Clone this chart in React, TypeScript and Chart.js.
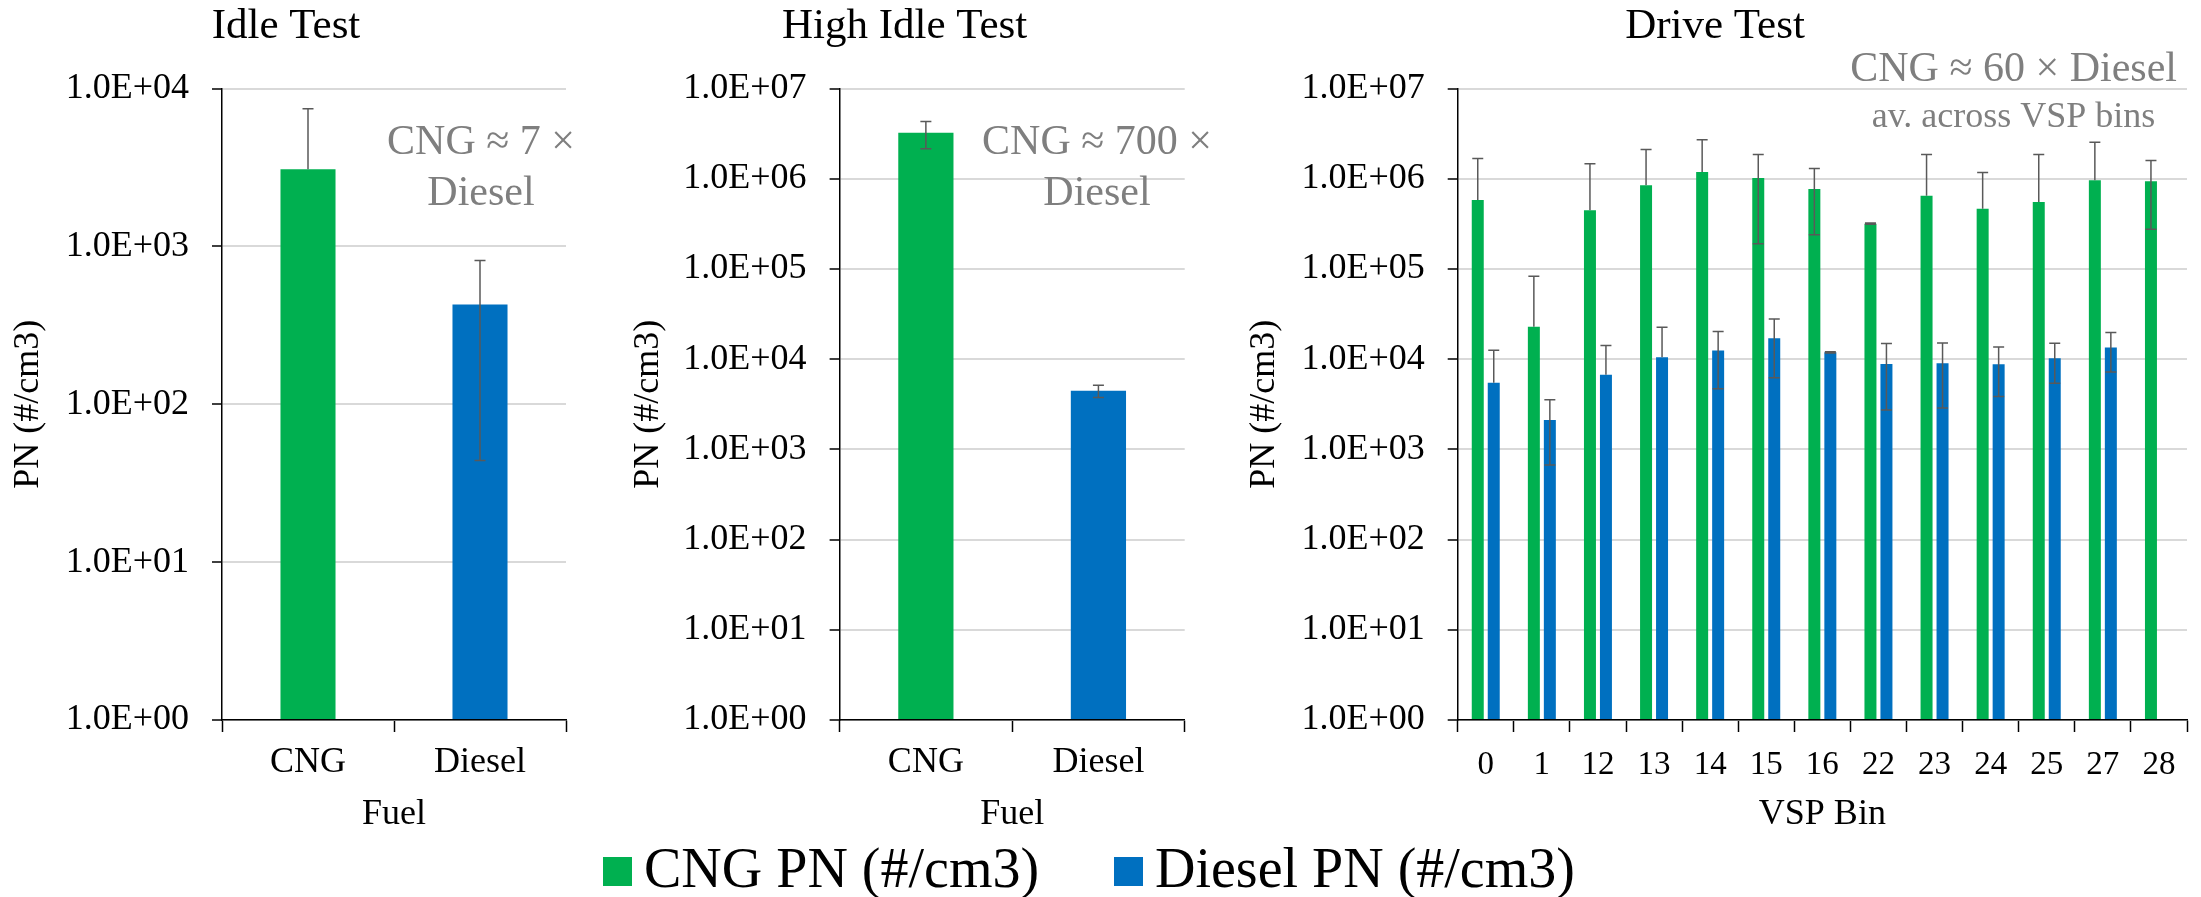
import React, { useEffect, useRef } from 'react';
import { Chart, registerables } from 'chart.js';

Chart.register(...registerables);

const FONT = "'Liberation Serif'";
const GREEN = '#00B050';
const BLUE = '#0070C0';
const ERR_COLOR = '#595959';
const GRID = '#d9d9d9';
const NOTE = '#7f7f7f';

// ---------- data ----------
const seriesLabels = ['CNG PN (#/cm3)', 'Diesel PN (#/cm3)'];
const fuelCategories = ['CNG', 'Diesel'];

const idleValues = [3080, 429];
const idleErrors = [4350, 385];

const highIdleValues = [3230000, 4450];
const highIdleErrors = [1080000, 700];

const vspBins = ['0', '1', '12', '13', '14', '15', '16', '22', '23', '24', '25', '27', '28'];
const driveCngValues = [580000, 22900, 446000, 844000, 1190000, 1020000, 769000, 317000, 648000, 465000, 552000, 960000, 935000];
const driveCngErrors = [1090000, 60000, 1020000, 1270000, 1520000, 830000, 530000, 5000, 1210000, 710000, 1300000, 1570000, 660000];
const driveDieselValues = [5470, 2110, 6730, 10500, 12500, 17000, 11900, 8830, 8980, 8750, 10200, 13500, null];
const driveDieselErrors = [7100, 1440, 7400, 12000, 7800, 10800, 200, 6100, 6100, 4900, 4800, 6300, null];

const idleTickValues = [1, 10, 100, 1000, 10000];
const idleTickLabels = ['1.0E+00', '1.0E+01', '1.0E+02', '1.0E+03', '1.0E+04'];
const wideTickValues = [1, 10, 100, 1000, 10000, 100000, 1000000, 10000000];
const wideTickLabels = ['1.0E+00', '1.0E+01', '1.0E+02', '1.0E+03', '1.0E+04', '1.0E+05', '1.0E+06', '1.0E+07'];

// ---------- plugins ----------
const errorBarPlugin = {
  id: 'errorBars',
  afterDatasetsDraw(chart: any) {
    const { ctx, chartArea } = chart;
    const ys = chart.scales.y;
    ctx.save();
    ctx.beginPath();
    ctx.rect(chartArea.left, chartArea.top - 60, chartArea.right - chartArea.left, chartArea.bottom - chartArea.top + 60);
    ctx.clip();
    ctx.strokeStyle = ERR_COLOR;
    ctx.lineWidth = 1.5;
    const half = 5.5;
    chart.data.datasets.forEach((ds: any, i: number) => {
      const errs = ds.errors;
      if (!errs) return;
      const meta = chart.getDatasetMeta(i);
      meta.data.forEach((el: any, j: number) => {
        const v = ds.data[j];
        const e = errs[j];
        if (v == null || e == null) return;
        const x = el.x;
        const y0 = ys.getPixelForValue(v);
        const yHi = ys.getPixelForValue(v + e);
        ctx.beginPath();
        ctx.moveTo(x, y0);
        ctx.lineTo(x, yHi);
        ctx.moveTo(x - half, yHi);
        ctx.lineTo(x + half, yHi);
        if (v - e > 0) {
          const yLo = ys.getPixelForValue(v - e);
          ctx.moveTo(x, y0);
          ctx.lineTo(x, yLo);
          ctx.moveTo(x - half, yLo);
          ctx.lineTo(x + half, yLo);
        }
        ctx.stroke();
      });
    });
    ctx.restore();
  },
};

type Note = { text: string; x: number; y: number; size: number };

function makeNotesPlugin(notes: Note[], left: number) {
  return {
    id: 'notes',
    afterDraw(chart: any) {
      const ctx = chart.ctx;
      ctx.save();
      ctx.fillStyle = NOTE;
      ctx.textAlign = 'center';
      ctx.textBaseline = 'alphabetic';
      notes.forEach((n) => {
        ctx.font = `${n.size}px ${FONT}`;
        ctx.fillText(n.text, n.x - left, n.y);
      });
      ctx.restore();
    },
  };
}

// ---------- panels ----------
const CANVAS_H = 840;

type PanelSpec = {
  left: number;
  width: number;
  padLeft: number;
  padRight: number;
  yWidth: number;
  yTitlePad: number;
  title: string;
  xTitle: string;
  xTickSize: number;
  xTickPad: number;
  labels: string[];
  datasets: any[];
  tickValues: number[];
  tickLabels: string[];
  notes: Note[];
};

const barStyle = { borderWidth: 0 };

const panels: PanelSpec[] = [
  {
    left: 0,
    width: 580,
    padLeft: 6,
    padRight: 14,
    yWidth: 216,
    yTitlePad: 1.4,
    title: 'Idle Test',
    xTitle: 'Fuel',
    xTickSize: 36,
    xTickPad: 9.4,
    labels: fuelCategories,
    datasets: [
      { label: seriesLabels[0], data: [idleValues[0], null], errors: [idleErrors[0], null], backgroundColor: GREEN, categoryPercentage: 0.32, barPercentage: 1, skipNull: true, ...barStyle },
      { label: seriesLabels[1], data: [null, idleValues[1]], errors: [null, idleErrors[1]], backgroundColor: BLUE, categoryPercentage: 0.32, barPercentage: 1, skipNull: true, ...barStyle },
    ],
    tickValues: idleTickValues,
    tickLabels: idleTickLabels,
    notes: [
      { text: 'CNG \u2248 7 \u00d7', x: 481, y: 154, size: 42 },
      { text: 'Diesel', x: 481, y: 205, size: 42 },
    ],
  },
  {
    left: 620,
    width: 600,
    padLeft: 4.5,
    padRight: 35.3,
    yWidth: 215.1,
    yTitlePad: 2.8,
    title: 'High Idle Test',
    xTitle: 'Fuel',
    xTickSize: 36,
    xTickPad: 9.4,
    labels: fuelCategories,
    datasets: [
      { label: seriesLabels[0], data: [highIdleValues[0], null], errors: [highIdleErrors[0], null], backgroundColor: GREEN, categoryPercentage: 0.32, barPercentage: 1, skipNull: true, ...barStyle },
      { label: seriesLabels[1], data: [null, highIdleValues[1]], errors: [null, highIdleErrors[1]], backgroundColor: BLUE, categoryPercentage: 0.32, barPercentage: 1, skipNull: true, ...barStyle },
    ],
    tickValues: wideTickValues,
    tickLabels: wideTickLabels,
    notes: [
      { text: 'CNG \u2248 700 \u00d7', x: 1097, y: 154, size: 42 },
      { text: 'Diesel', x: 1097, y: 205, size: 42 },
    ],
  },
  {
    left: 1230,
    width: 971,
    padLeft: 13,
    padRight: 14,
    yWidth: 214.7,
    yTitlePad: 0.4,
    title: 'Drive Test',
    xTitle: 'VSP Bin',
    xTickSize: 33,
    xTickPad: 14,
    labels: vspBins,
    datasets: [
      { label: seriesLabels[0], data: driveCngValues, errors: driveCngErrors, backgroundColor: GREEN, categoryPercentage: 0.57, barPercentage: 0.75, ...barStyle },
      { label: seriesLabels[1], data: driveDieselValues, errors: driveDieselErrors, backgroundColor: BLUE, categoryPercentage: 0.57, barPercentage: 0.75, ...barStyle },
    ],
    tickValues: wideTickValues,
    tickLabels: wideTickLabels,
    notes: [
      { text: 'CNG \u2248 60 \u00d7 Diesel', x: 2013.6, y: 80.7, size: 42 },
      { text: 'av. across VSP bins', x: 2013.5, y: 127.3, size: 36 },
    ],
  },
];

function buildConfig(spec: PanelSpec): any {
  const { tickValues, tickLabels } = spec;
  return {
    type: 'bar',
    data: { labels: spec.labels, datasets: spec.datasets },
    options: {
      responsive: false,
      animation: false,
      devicePixelRatio: 1,
      events: [],
      layout: { padding: { top: 1, left: spec.padLeft, right: spec.padRight, bottom: 0 } },
      plugins: {
        legend: { display: false },
        tooltip: { enabled: false },
        title: {
          display: true,
          text: spec.title,
          color: '#000',
          font: { family: FONT, size: 43, weight: 'normal' },
          padding: { top: 0, bottom: 35.9 },
        },
      },
      scales: {
        x: {
          type: 'category',
          offset: true,
          afterFit: (s: any) => {
            s.height = 120;
          },
          grid: {
            display: true,
            drawOnChartArea: false,
            drawTicks: true,
            tickLength: 12,
            tickColor: '#000',
            tickWidth: 1.5,
            offset: true,
          },
          border: { display: true, color: '#000', width: 1.5, z: 1 },
          ticks: {
            color: '#000',
            font: { family: FONT, size: spec.xTickSize },
            padding: spec.xTickPad,
            maxRotation: 0,
            autoSkip: false,
          },
          title: {
            display: true,
            text: spec.xTitle,
            color: '#000',
            font: { family: FONT, size: 36 },
            padding: { top: 0, bottom: 4 },
          },
        },
        y: {
          type: 'logarithmic',
          min: tickValues[0],
          max: tickValues[tickValues.length - 1],
          afterBuildTicks: (s: any) => {
            s.ticks = tickValues.map((v) => ({ value: v }));
          },
          afterFit: (s: any) => {
            s.width = spec.yWidth;
          },
          ticks: {
            color: '#000',
            font: { family: FONT, size: 36 },
            padding: 23,
            autoSkip: false,
            callback: (v: any) => {
              const i = tickValues.indexOf(Number(v));
              return i >= 0 ? tickLabels[i] : '';
            },
          },
          grid: {
            color: GRID,
            lineWidth: 2,
            drawTicks: true,
            tickLength: 10,
            tickColor: '#000',
            tickWidth: 1.5,
          },
          border: { display: true, color: '#000', width: 1.5, z: 1 },
          title: {
            display: true,
            text: 'PN (#/cm3)',
            color: '#000',
            font: { family: FONT, size: 36 },
            padding: { top: spec.yTitlePad, bottom: 0 },
          },
        },
      },
    },
    plugins: [errorBarPlugin, makeNotesPlugin(spec.notes, spec.left)],
  };
}

function Panel({ spec }: { spec: PanelSpec }) {
  const ref = useRef<HTMLCanvasElement | null>(null);
  useEffect(() => {
    if (!ref.current) return;
    const chart = new Chart(ref.current, buildConfig(spec));
    return () => {
      chart.destroy();
    };
  }, [spec]);
  return (
    <canvas
      ref={ref}
      width={spec.width}
      height={CANVAS_H}
      style={{ position: 'absolute', left: spec.left, top: 0, width: spec.width, height: CANVAS_H }}
    />
  );
}

const legendColors = [GREEN, BLUE];
const legendLefts = [603, 1114];

export default function App() {
  return (
    <div
      style={{
        position: 'absolute',
        left: 0,
        top: 0,
        width: 2201,
        height: 897,
        background: '#fff',
        overflow: 'hidden',
      }}
    >
      {panels.map((p, i) => (
        <Panel key={i} spec={p} />
      ))}
      {seriesLabels.map((lab, i) => (
        <div
          key={lab}
          style={{
            position: 'absolute',
            left: legendLefts[i],
            top: 840,
            display: 'flex',
            alignItems: 'flex-start',
            fontFamily: FONT,
            fontSize: 56,
            lineHeight: '56px',
            color: '#000',
            whiteSpace: 'nowrap',
          }}
        >
          <span
            style={{
              display: 'inline-block',
              width: 29,
              height: 29,
              marginTop: 17,
              marginRight: 12,
              background: legendColors[i],
            }}
          />
          <span>{lab}</span>
        </div>
      ))}
    </div>
  );
}
